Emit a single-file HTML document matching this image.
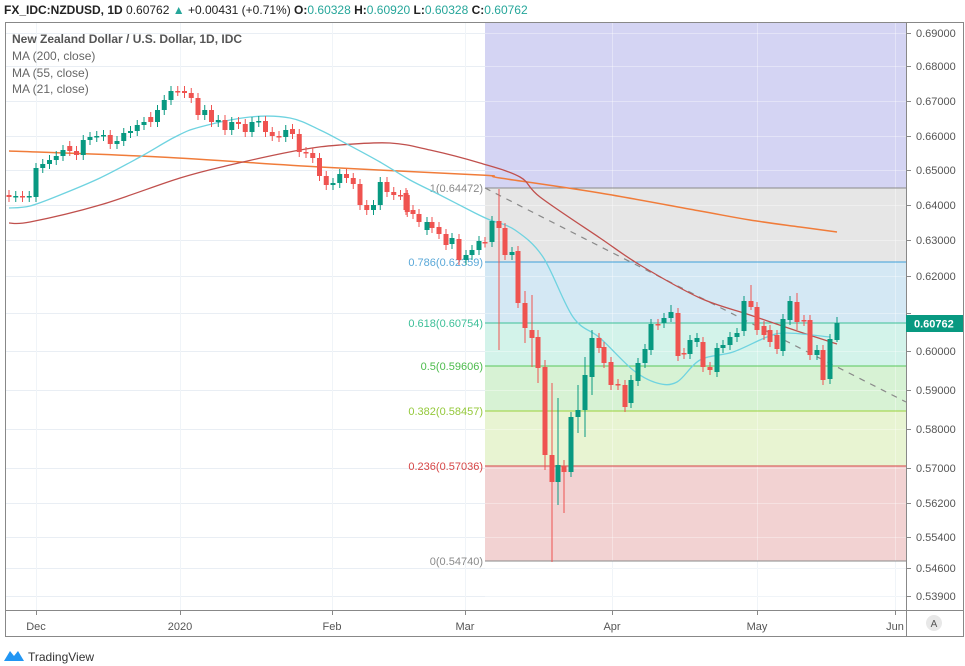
<!DOCTYPE html>
<html><head><meta charset="utf-8"><style>
body{margin:0;background:#fff;width:965px;height:666px;overflow:hidden;font-family:"Liberation Sans",sans-serif}
svg{position:absolute;left:0;top:0}
</style></head><body>
<svg id="s" width="965" height="666" xmlns="http://www.w3.org/2000/svg" font-family="Liberation Sans, sans-serif">
<rect x="0" y="0" width="965" height="666" fill="#fff"/>
<g id="grid"></g>
<rect x="485" y="22" width="421" height="166" fill="#d4d4f3"/>
<rect x="485" y="188" width="421" height="74" fill="#e6e6e6"/>
<rect x="485" y="262" width="421" height="61" fill="#d4e8f4"/>
<rect x="485" y="323" width="421" height="43" fill="#d3f3ea"/>
<rect x="485" y="366" width="421" height="45" fill="#d7f2d4"/>
<rect x="485" y="411" width="421" height="55" fill="#e8f4d2"/>
<rect x="485" y="466" width="421" height="95" fill="#f2d2d2"/>
<g id="grid2"></g>
<line x1="485" y1="188" x2="906" y2="188" stroke="#8a8a8a"/>
<line x1="485" y1="262" x2="906" y2="262" stroke="#3d9fd8"/>
<line x1="485" y1="323" x2="906" y2="323" stroke="#3cbf98"/>
<line x1="485" y1="366" x2="906" y2="366" stroke="#59c75a"/>
<line x1="485" y1="411" x2="906" y2="411" stroke="#9ad13b"/>
<line x1="485" y1="466" x2="906" y2="466" stroke="#d64545"/>
<line x1="485" y1="561" x2="906" y2="561" stroke="#8a8a8a"/>
<g font-size="11" text-anchor="end">
<text x="483" y="192" fill="#8a8a8a">1(0.64472)</text>
<text x="483" y="266" fill="#5aa8d8">0.786(0.62359)</text>
<text x="483" y="327" fill="#3cbf98">0.618(0.60754)</text>
<text x="483" y="370" fill="#4cbb4c">0.5(0.59606)</text>
<text x="483" y="415" fill="#94c83a">0.382(0.58457)</text>
<text x="483" y="470" fill="#d64545">0.236(0.57036)</text>
<text x="483" y="565" fill="#8a8a8a">0(0.54740)</text>
</g>
<line x1="485" y1="188" x2="906" y2="402" stroke="#8a8a8a" stroke-dasharray="6,6" stroke-width="1.2"/>
<g id="mas"></g>
<g id="candles"></g>
<rect x="5.5" y="22.5" width="958" height="614" fill="none" stroke="#888"/>
<line x1="906.5" y1="22" x2="906.5" y2="637" stroke="#888"/>
<line x1="5" y1="610.5" x2="964" y2="610.5" stroke="#888"/>
<g id="axis" font-size="11" fill="#555"></g>
<rect x="906" y="315" width="57" height="17" fill="#089981"/>
<text x="914" y="327.5" font-size="11" font-weight="bold" fill="#fff">0.60762</text>
<circle cx="934" cy="623" r="8" fill="#e8e8e8"/>
<text x="934" y="627" font-size="10" fill="#555" text-anchor="middle">A</text>
<text x="4" y="14" font-size="12" fill="#222"><tspan font-weight="bold">FX_IDC:NZDUSD, 1D</tspan> 0.60762 <tspan fill="#26a69a">▲</tspan> +0.00431 (+0.71%) <tspan font-weight="bold">O:</tspan><tspan fill="#26a69a">0.60328</tspan> <tspan font-weight="bold">H:</tspan><tspan fill="#26a69a">0.60920</tspan> <tspan font-weight="bold">L:</tspan><tspan fill="#26a69a">0.60328</tspan> <tspan font-weight="bold">C:</tspan><tspan fill="#26a69a">0.60762</tspan></text>
<text x="12" y="43" font-size="12" fill="#555" font-weight="bold">New Zealand Dollar / U.S. Dollar, 1D, IDC</text>
<text x="12" y="60" font-size="12" fill="#666">MA (200, close)</text>
<text x="12" y="77" font-size="12" fill="#666">MA (55, close)</text>
<text x="12" y="93" font-size="12" fill="#666">MA (21, close)</text>
<path d="M4,661 L10,651 L14,656 L18,651 L24,661 Z" fill="#2196f3"/>
<text x="28" y="661" font-size="12" fill="#333">TradingView</text>
</svg>
<script>
var NS="http://www.w3.org/2000/svg";
function el(p,t,a,txt){var e=document.createElementNS(NS,t);for(var k in a)e.setAttribute(k,a[k]);if(txt)e.textContent=txt;document.getElementById(p).appendChild(e);return e;}
function smooth(pts){var d="M"+pts[0][0]+","+pts[0][1];for(var i=0;i<pts.length-1;i++){var p0=pts[Math.max(0,i-1)],p1=pts[i],p2=pts[i+1],p3=pts[Math.min(pts.length-1,i+2)];
var c1x=p1[0]+(p2[0]-p0[0])/6,c1y=p1[1]+(p2[1]-p0[1])/6,c2x=p2[0]-(p3[0]-p1[0])/6,c2y=p2[1]-(p3[1]-p1[1])/6;
d+=" C"+c1x.toFixed(1)+","+c1y.toFixed(1)+" "+c2x.toFixed(1)+","+c2y.toFixed(1)+" "+p2[0]+","+p2[1];}return d;}
var ma200=[[9,151],[160,157],[320,167],[480,175],[500,178],[600,193],[700,211],[750,220],[800,227],[837,232]];
var ma55=[[9,223],[30,222],[100,205],[180,178],[230,165],[300,150],[340,145],[390,143],[430,150],[480,163],[520,177],[540,197],[600,238],[640,265],[700,298],[750,315],[800,332],[837,344]];
var ma21=[[9,208],[30,206],[60,195],[100,178],[140,157],[175,137],[200,127],[250,117],[290,118],[320,130],[345,143],[380,162],[410,180],[440,195],[475,213],[490,220],[515,230],[543,257],[573,317],[600,338],[633,370],[657,383],[677,382],[700,360],[733,352],[767,337],[787,333],[830,337]];
el("mas","path",{d:smooth(ma200),fill:"none",stroke:"#f07c3a","stroke-width":1.5});
el("mas","path",{d:smooth(ma55),fill:"none",stroke:"#c0504d","stroke-width":1.3});
el("mas","path",{d:smooth(ma21),fill:"none",stroke:"#6fd3e0","stroke-width":1.3});
var ticks=[[0.69,33],[0.68,66],[0.67,101],[0.66,136],[0.65,170],[0.64,205],[0.63,240],[0.62,276],[0.61,313],[0.60,351],[0.59,390],[0.58,429],[0.57,468],[0.562,503],[0.554,537],[0.546,568],[0.539,596]];
var months=[["Dec",36],["2020",180],["Feb",332],["Mar",465],["Apr",612],["May",757],["Jun",895]];
ticks.forEach(function(t){
 el("grid","line",{x1:6,x2:906,y1:t[1]+.5,y2:t[1]+.5,stroke:"#e9eef4"});
 el("grid2","line",{x1:485,x2:906,y1:t[1]+.5,y2:t[1]+.5,stroke:"rgba(255,255,255,0.35)"});
 el("axis","line",{x1:906,x2:911,y1:t[1]+.5,y2:t[1]+.5,stroke:"#888"});
 if(t[0]!=0.61)el("axis","text",{x:916,y:t[1]+4},t[0].toFixed(5));
});
months.forEach(function(m){
 el("grid","line",{x1:m[1]+.5,x2:m[1]+.5,y1:23,y2:610,stroke:"#e9eef4"});
 el("grid2","line",{x1:m[1]+.5,x2:m[1]+.5,y1:23,y2:610,stroke:"rgba(255,255,255,0.35)"});
 el("axis","line",{x1:m[1]+.5,x2:m[1]+.5,y1:610,y2:615,stroke:"#888"});
 el("axis","text",{x:m[1],y:630,"text-anchor":"middle"},m[0]);
});
var cl=[197,196,197,196,168,164,160,156,150,151,155,140,137,136,135,144,141,133,131,125,122,122,110,100,91,91,93,98,115,110,122,120,130,122,124,132,122,121,132,136,137,130,134,152,153,158,176,185,183,174,178,184,205,210,205,182,192,195,195,212];
var op=[195,197,196,197,197];
var C=[];
for(var i=0;i<cl.length;i++){var o=i<5?op[i]:cl[i-1];if(i==9||i==21||i==42)o=cl[i]-5;C.push([9+i*6.75,o,cl[i]]);}
var L=[[406,193,210],[413,210,214],[419,214,222],[427,230,222],[432,222,228],[439,227,234],[446,234,245],[452,244,238],[459,239,260],[466,260,255],[472,255,250],[479,250,241],[485,242,242.5],[492,242,221],[499,221,228,189,350],[505,228,255],[512,255,252],[518,251,303],[525,303,328,291,343],[532,330,338,295,367],[538,337,368,330,383],[545,367,455,360,470],[552,455,482,383,562],[558,482,465,398,505],[564,466,472,460,513],[571,472,417],[578,417,410,385,433],[585,410,375,357,437],[592,377,338,330,395],[599,338,348],[604,347,363],[611,362,385],[618,384,385],[625,385,407],[631,403,380],[638,381,363],[645,363,349],[651,350,324],[658,324,325],[664,323,318],[671,318,312,305,322],[678,313,356],[684,353,354],[690,354,340],[697,342,338],[703,342,367],[710,367,370],[717,372,348],[723,348,345],[730,345,337],[737,337,333],[744,331,301],[751,301,307,285,310],[757,307,330],[764,326,335],[770,330,342],[777,335,349],[783,351,319],[790,320,301],[797,302,322,293,330],[804,320,321],[810,320,355],[817,355,350],[823,350,380],[830,379,339],[837,340,323,317,342]];
C=C.concat(L);
C.forEach(function(c){
 var x=c[0],o=c[1],cv=c[2],up=cv<o;var col=up?"#089981":"#ef5350";
 var top=Math.min(o,cv),bot=Math.max(o,cv);
 var h=c[3]!==undefined?c[3]:top-5,l=c[4]!==undefined?c[4]:bot+5;
 el("candles","line",{x1:x,x2:x,y1:h,y2:l,stroke:col,"stroke-width":1});
 el("candles","rect",{x:x-2.5,y:top,width:5,height:Math.max(1.5,bot-top),fill:col});
});
</script>
</body></html>
